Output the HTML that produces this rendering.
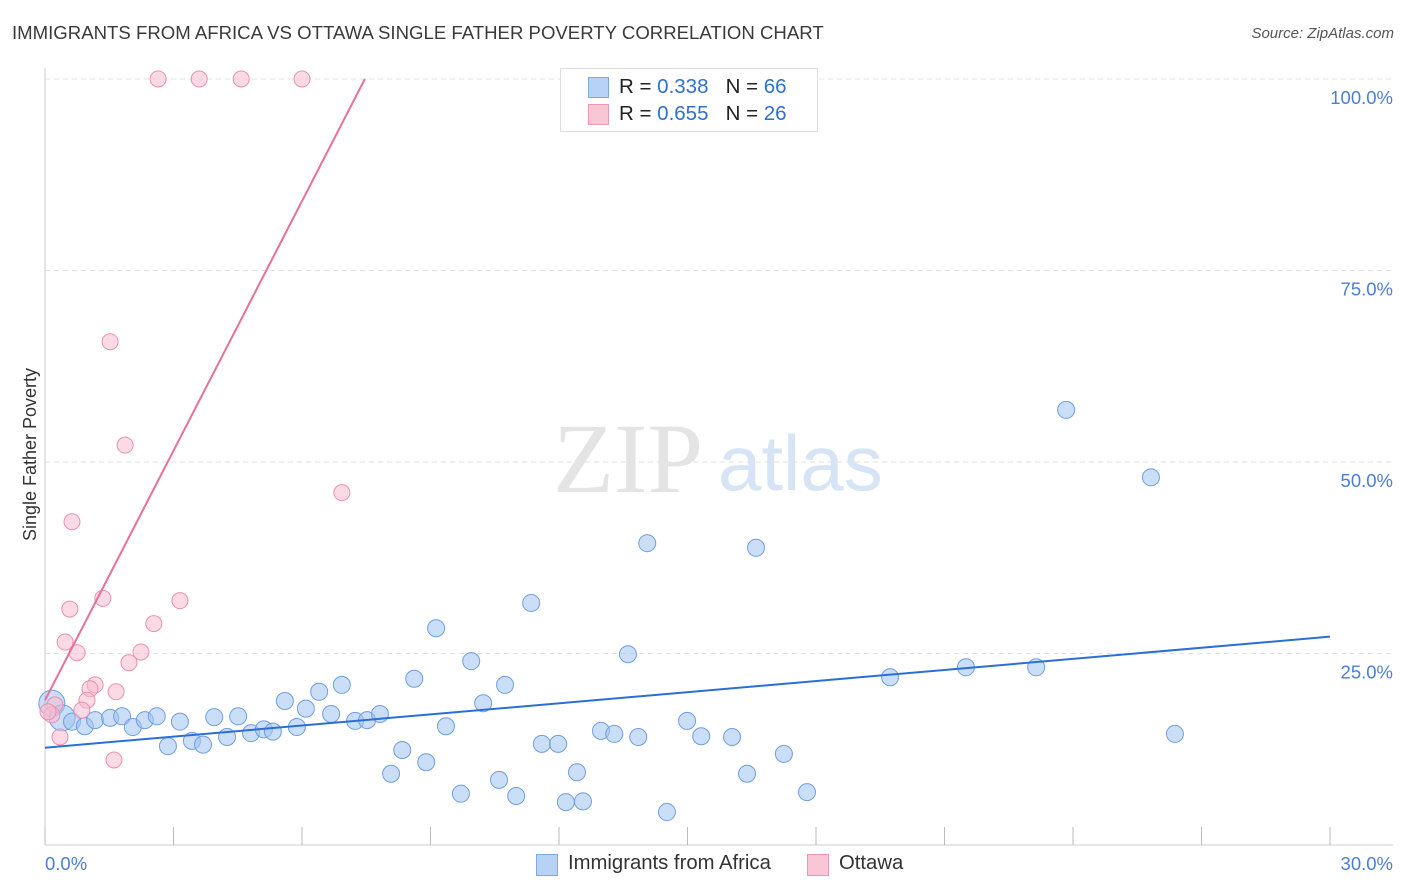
<!DOCTYPE html>
<html><head><meta charset="utf-8"><style>
body{margin:0;background:#fff;font-family:"Liberation Sans",sans-serif}
#c{position:relative;width:1406px;height:892px;overflow:hidden}
.t{position:absolute;white-space:nowrap}
</style></head><body>
<div id="c">
<div class="t" style="left:12px;top:22px;font-size:18.6px;color:#3a3a3a">IMMIGRANTS FROM AFRICA VS OTTAWA SINGLE FATHER POVERTY CORRELATION CHART</div>
<div class="t" style="right:12px;top:25px;font-size:15px;color:#555;font-style:italic">Source: ZipAtlas.com</div>
<div class="t" style="left:-56px;top:444px;font-size:18px;color:#333;transform:rotate(-90deg)">Single Father Poverty</div>
<svg id="s" width="1406" height="892" style="position:absolute;left:0;top:0"></svg>
<div style="position:absolute;left:560px;top:68px;width:256px;height:62px;border:1px solid #ddd;background:#fff;font-size:20.5px">
 <div style="position:absolute;left:27px;top:8px;width:19px;height:19px;background:#b7d2f5;border:1px solid #7fa9e4"></div>
 <div class="t" style="left:58px;top:6px;color:#222">R = <span style="color:#2f6fd0">0.338</span>&nbsp;&nbsp;&nbsp;N = <span style="color:#2f6fd0">66</span></div>
 <div style="position:absolute;left:27px;top:35px;width:19px;height:19px;background:#f9c6d6;border:1px solid #ee97b5"></div>
 <div class="t" style="left:58px;top:33px;color:#222">R = <span style="color:#2f6fd0">0.655</span>&nbsp;&nbsp;&nbsp;N = <span style="color:#2f6fd0">26</span></div>
</div>
<div style="position:absolute;left:536px;top:852px;font-size:20.3px;color:#333">
 <div style="position:absolute;left:0;top:2px;width:20px;height:20px;background:#b7d2f5;border:1px solid #7fa9e4"></div>
 <div class="t" style="left:32px;top:0">Immigrants from Africa</div>
 <div style="position:absolute;left:271px;top:2px;width:20px;height:20px;background:#f9c6d6;border:1px solid #ee97b5"></div>
 <div class="t" style="left:303px;top:0">Ottawa</div>
</div>
</div>
<script>
const blueX=[0.16,0.40,0.63,0.93,1.17,1.52,1.80,2.05,2.33,2.61,2.87,3.15,3.43,3.69,3.95,4.25,4.51,4.81,5.11,5.32,5.60,5.88,6.09,6.40,6.68,6.93,7.24,7.52,7.82,8.08,8.34,8.62,8.90,9.13,9.36,9.71,9.95,10.23,10.60,10.74,11.00,11.35,11.60,11.98,12.16,12.42,12.56,12.98,13.29,13.61,13.85,14.06,14.52,14.99,15.32,16.04,16.39,16.60,17.25,17.79,19.73,21.50,23.14,23.84,25.82,26.38];
const blueY=[18.5,16.6,16.1,15.5,16.3,16.6,16.8,15.4,16.3,16.8,12.9,16.1,13.6,13.1,16.7,14.1,16.8,14.6,15.1,14.8,18.8,15.4,17.8,20.0,17.1,20.9,16.2,16.3,17.1,9.3,12.4,21.7,10.8,28.3,15.5,6.7,24.0,18.5,8.5,20.9,6.4,31.6,13.2,13.2,5.6,9.5,5.7,14.9,14.5,24.9,14.1,39.4,4.3,16.2,14.2,14.1,9.3,38.8,11.9,6.9,21.9,23.2,23.2,56.8,48.0,14.5];
const pinkX=[2.64,3.60,4.58,6.00,1.52,1.87,6.93,0.63,0.58,1.35,3.15,2.54,0.47,0.75,2.24,1.96,1.17,1.05,0.98,0.86,1.66,0.23,0.16,0.35,1.61,0.07];
const pinkY=[100,100,100,100,65.7,52.2,46.0,42.2,30.8,32.2,31.9,28.9,26.5,25.1,25.2,23.8,20.9,20.4,18.9,17.6,20.0,18.3,17.0,14.1,11.1,17.4];
const blueTrend=[12.7,27.2];
const pinkTrend=[18.9,10.86];
const yTicks=[25,50,75,100];
const yTickLabels=["25.0%","50.0%","75.0%","100.0%"];
const xTicks=[0,3,6,9,12,15,18,21,24,27,30];
const X=v=>45+v*1285/30, Y=v=>845-v*7.66;
const s=document.getElementById('s'),NS='http://www.w3.org/2000/svg';
function mk(t,a,n){const e=document.createElementNS(NS,t);for(const k in a)e.setAttribute(k,a[k]);


s.appendChild(e);return e;}
yTicks.forEach((v,i)=>{mk('line',{x1:45,x2:1393,y1:Y(v),y2:Y(v),stroke:'#e2e2e2','stroke-dasharray':'5,4'},'gridline');
const t=mk('text',{x:1393,y:Y(v)+25,'text-anchor':'end','font-size':18.5,fill:'#4a7fd4','font-family':'Liberation Sans'},'y-tick-label');t.textContent=yTickLabels[i];});
mk('line',{x1:45,x2:45,y1:68,y2:845,stroke:'#ccc'},'y-axis');
mk('line',{x1:45,x2:1393,y1:845,y2:845,stroke:'#ccc'},'x-axis');
xTicks.forEach(v=>mk('line',{x1:X(v),x2:X(v),y1:827,y2:845,stroke:'#bbb'},'x-tick'));
let t=mk('text',{x:45,y:870,'font-size':18.5,fill:'#4a7fd4','font-family':'Liberation Sans'},'x-min-label');t.textContent='0.0%';
t=mk('text',{x:1393,y:870,'text-anchor':'end','font-size':18.5,fill:'#4a7fd4','font-family':'Liberation Sans'},'x-max-label');t.textContent='30.0%';
t=mk('text',{x:553,y:492,'font-size':100,fill:'#e4e4e4','font-family':'Liberation Serif'},'watermark-zip');t.textContent='ZIP';
t=mk('text',{x:718,y:490,'font-size':78,fill:'#d6e4f6','font-family':'Liberation Sans'},'watermark-atlas');t.textContent='atlas';
blueX.forEach((x,i)=>mk('circle',{cx:X(x),cy:Y(blueY[i]),r:i<2?13:8.5,fill:'rgba(160,195,240,0.55)',stroke:'#6f9fe0','stroke-width':1},'blue-point'));
pinkX.forEach((x,i)=>mk('circle',{cx:X(x),cy:Y(pinkY[i]),r:8,fill:'rgba(248,188,208,0.55)',stroke:'#ec8fb0','stroke-width':1},'pink-point'));
mk('line',{x1:X(0),y1:Y(blueTrend[0]),x2:X(30),y2:Y(blueTrend[1]),stroke:'#2a6fd6','stroke-width':2},'blue-trendline');
const pe=(100-pinkTrend[0])/pinkTrend[1];
mk('line',{x1:X(0),y1:Y(pinkTrend[0]),x2:X(pe),y2:Y(100),stroke:'#e8709a','stroke-width':2},'pink-trendline');
</script>
</body></html>
